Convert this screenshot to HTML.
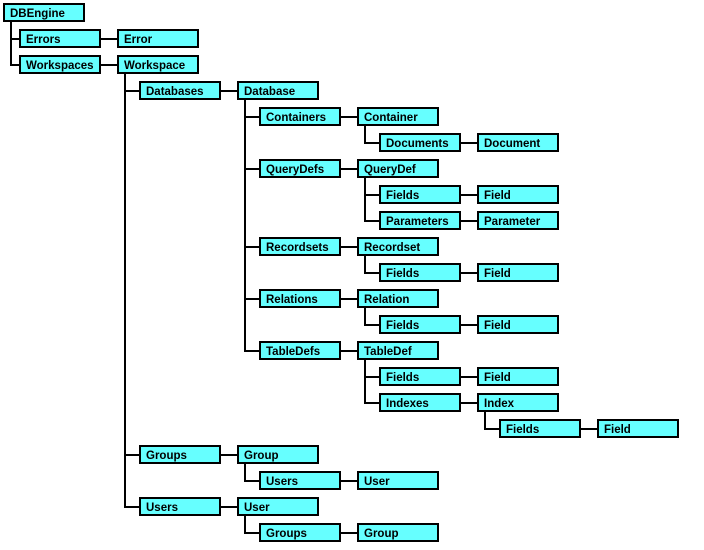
<!DOCTYPE html>
<html><head><meta charset="utf-8"><style>
html,body{margin:0;padding:0;background:#fff;width:704px;height:550px;overflow:hidden}
svg text{font-family:"Liberation Sans",Arial,sans-serif;font-weight:bold;font-size:11.5px;fill:#000}
</style></head><body>
<svg width="704" height="550" xmlns="http://www.w3.org/2000/svg">
<g stroke="#000" stroke-width="2" fill="none" shape-rendering="crispEdges">
<path d="M11 22V66M11 39H19M11 65H19"/>
<path d="M125 74V508M125 91H139M125 455H139M125 507H139"/>
<path d="M245 100V352M245 117H259M245 169H259M245 247H259M245 299H259M245 351H259"/>
<path d="M365 126V144M365 143H379"/>
<path d="M365 178V222M365 195H379M365 221H379"/>
<path d="M365 256V274M365 273H379"/>
<path d="M365 308V326M365 325H379"/>
<path d="M365 360V404M365 377H379M365 403H379"/>
<path d="M485 412V430M485 429H499"/>
<path d="M245 464V482M245 481H259"/>
<path d="M245 516V534M245 533H259"/>
<path d="M101 39H117M101 65H117M221 91H237M341 117H357M461 143H477M341 169H357M461 195H477M461 221H477M341 247H357M461 273H477M341 299H357M461 325H477M341 351H357M461 377H477M461 403H477M581 429H597M221 455H237M341 481H357M221 507H237M341 533H357"/>
</g>
<g fill="#66ffff" stroke="#000" stroke-width="2">
<rect x="4" y="4" width="80" height="17"/>
<rect x="20" y="30" width="80" height="17"/><rect x="118" y="30" width="80" height="17"/>
<rect x="20" y="56" width="80" height="17"/><rect x="118" y="56" width="80" height="17"/>
<rect x="140" y="82" width="80" height="17"/><rect x="238" y="82" width="80" height="17"/>
<rect x="260" y="108" width="80" height="17"/><rect x="358" y="108" width="80" height="17"/>
<rect x="380" y="134" width="80" height="17"/><rect x="478" y="134" width="80" height="17"/>
<rect x="260" y="160" width="80" height="17"/><rect x="358" y="160" width="80" height="17"/>
<rect x="380" y="186" width="80" height="17"/><rect x="478" y="186" width="80" height="17"/>
<rect x="380" y="212" width="80" height="17"/><rect x="478" y="212" width="80" height="17"/>
<rect x="260" y="238" width="80" height="17"/><rect x="358" y="238" width="80" height="17"/>
<rect x="380" y="264" width="80" height="17"/><rect x="478" y="264" width="80" height="17"/>
<rect x="260" y="290" width="80" height="17"/><rect x="358" y="290" width="80" height="17"/>
<rect x="380" y="316" width="80" height="17"/><rect x="478" y="316" width="80" height="17"/>
<rect x="260" y="342" width="80" height="17"/><rect x="358" y="342" width="80" height="17"/>
<rect x="380" y="368" width="80" height="17"/><rect x="478" y="368" width="80" height="17"/>
<rect x="380" y="394" width="80" height="17"/><rect x="478" y="394" width="80" height="17"/>
<rect x="500" y="420" width="80" height="17"/><rect x="598" y="420" width="80" height="17"/>
<rect x="140" y="446" width="80" height="17"/><rect x="238" y="446" width="80" height="17"/>
<rect x="260" y="472" width="80" height="17"/><rect x="358" y="472" width="80" height="17"/>
<rect x="140" y="498" width="80" height="17"/><rect x="238" y="498" width="80" height="17"/>
<rect x="260" y="524" width="80" height="17"/><rect x="358" y="524" width="80" height="17"/>
</g>
<g>
<text x="10" y="17">DBEngine</text>
<text x="26" y="43">Errors</text><text x="124" y="43">Error</text>
<text x="26" y="69">Workspaces</text><text x="124" y="69">Workspace</text>
<text x="146" y="95">Databases</text><text x="244" y="95">Database</text>
<text x="266" y="121">Containers</text><text x="364" y="121">Container</text>
<text x="386" y="147">Documents</text><text x="484" y="147">Document</text>
<text x="266" y="173">QueryDefs</text><text x="364" y="173">QueryDef</text>
<text x="386" y="199">Fields</text><text x="484" y="199">Field</text>
<text x="386" y="225">Parameters</text><text x="484" y="225">Parameter</text>
<text x="266" y="251">Recordsets</text><text x="364" y="251">Recordset</text>
<text x="386" y="277">Fields</text><text x="484" y="277">Field</text>
<text x="266" y="303">Relations</text><text x="364" y="303">Relation</text>
<text x="386" y="329">Fields</text><text x="484" y="329">Field</text>
<text x="266" y="355">TableDefs</text><text x="364" y="355">TableDef</text>
<text x="386" y="381">Fields</text><text x="484" y="381">Field</text>
<text x="386" y="407">Indexes</text><text x="484" y="407">Index</text>
<text x="506" y="433">Fields</text><text x="604" y="433">Field</text>
<text x="146" y="459">Groups</text><text x="244" y="459">Group</text>
<text x="266" y="485">Users</text><text x="364" y="485">User</text>
<text x="146" y="511">Users</text><text x="244" y="511">User</text>
<text x="266" y="537">Groups</text><text x="364" y="537">Group</text>
</g>
</svg>
</body></html>
